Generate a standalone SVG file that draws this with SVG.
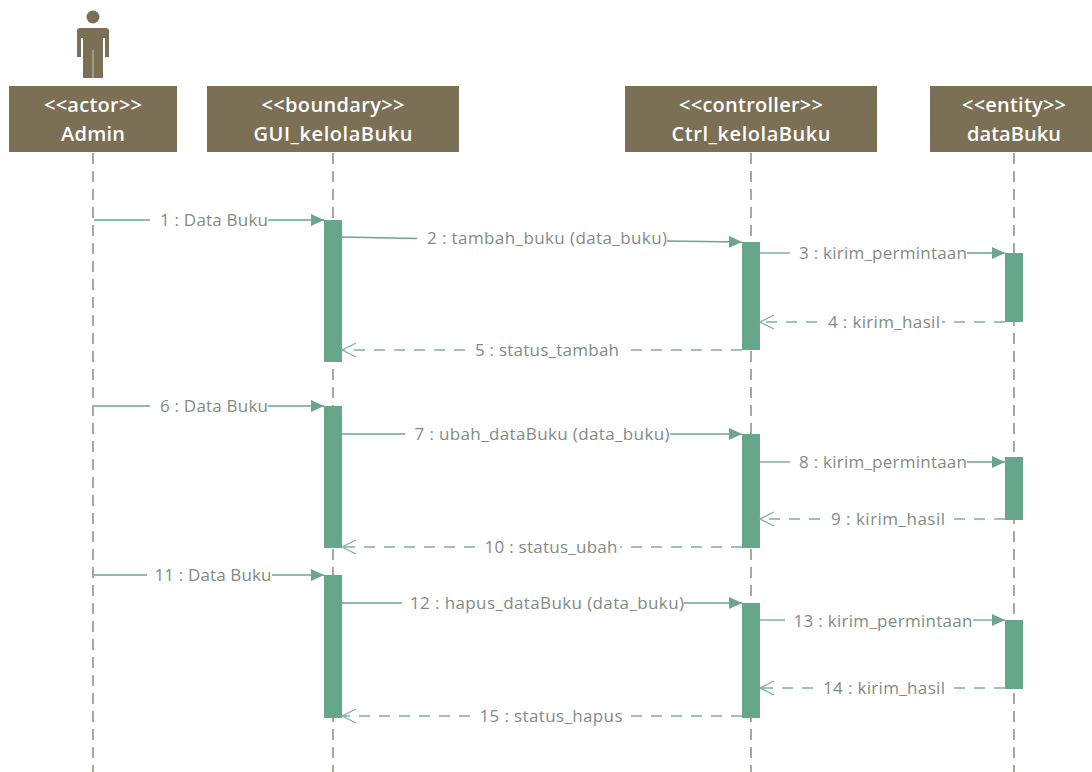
<svg xmlns="http://www.w3.org/2000/svg" width="1092" height="772" viewBox="0 0 1092 772">
<defs>
<marker id="fill" markerUnits="userSpaceOnUse" markerWidth="14" markerHeight="12" refX="13" refY="6" orient="auto"><path d="M0 0L13 6L0 12Z" fill="#6aa58c"/></marker>
<marker id="open" markerUnits="userSpaceOnUse" markerWidth="18" markerHeight="16" refX="15" refY="8" orient="auto"><path d="M1 1L15 8L1 15" fill="none" stroke="#7fb09b" stroke-width="1.2"/></marker>
</defs>
<style>
text{font-family:"Open Sans","DejaVu Sans",sans-serif}
.box{fill:#7b6f55}
.hd{fill:#fff;font-size:20px;text-anchor:middle;font-weight:600}
.life{stroke:#aaa6a0;stroke-width:2;stroke-dasharray:11 7;fill:none}
.act{fill:#66a78c}
.s{stroke:#6aa58c;stroke-width:1.3;fill:none}
.a{marker-end:url(#fill)}
.r{stroke:#7fb09b;stroke-width:1.6;stroke-dasharray:11 9;fill:none}
.o{marker-end:url(#open)}
.l{fill:#7f8c86;font-size:17px;text-anchor:middle}
</style>
<rect width="1092" height="772" fill="#fff"/>
<g id="lifelines">
<path class="life" d="M93 153V772"/><path class="life" d="M333 153V772"/><path class="life" d="M751 153V772"/><path class="life" d="M1014 153V772"/>
</g>
<g id="n-admin">
<circle cx="93" cy="17" r="6.5" fill="#7b6f55"/>
<path d="M80 28H106Q109 28 109 31V57H105V38H103V78H83V38H81V57H77V31Q77 28 80 28Z" fill="#7b6f55"/>
<path d="M93 50V78" stroke="#c9c4b8" stroke-width="1" fill="none"/>
<rect class="box" x="9" y="86" width="168" height="66"/>
<text class="hd" x="93" y="112" textLength="98">&lt;&lt;actor&gt;&gt;</text><text class="hd" x="93" y="141" textLength="64">Admin</text>
</g>
<g id="n-gui"><rect class="box" x="207" y="86" width="252" height="66"/>
<text class="hd" x="333" y="112" textLength="143">&lt;&lt;boundary&gt;&gt;</text><text class="hd" x="333" y="141" textLength="159">GUI_kelolaBuku</text></g>
<g id="n-ctrl"><rect class="box" x="625" y="86" width="252" height="66"/>
<text class="hd" x="751" y="112" textLength="144">&lt;&lt;controller&gt;&gt;</text><text class="hd" x="751" y="141" textLength="159">Ctrl_kelolaBuku</text></g>
<g id="n-data"><rect class="box" x="930" y="86" width="168" height="66"/>
<text class="hd" x="1014" y="112" textLength="104">&lt;&lt;entity&gt;&gt;</text><text class="hd" x="1014" y="141" textLength="94">dataBuku</text></g>
<g id="activations">
<rect class="act" x="324" y="220" width="18" height="142"/><rect class="act" x="324" y="406" width="18" height="142"/><rect class="act" x="324" y="575" width="18" height="143"/>
<rect class="act" x="742" y="242" width="18" height="108"/><rect class="act" x="742" y="434" width="18" height="114"/><rect class="act" x="742" y="603" width="18" height="115"/>
<rect class="act" x="1005" y="253" width="18" height="69"/><rect class="act" x="1005" y="457" width="18" height="63"/><rect class="act" x="1005" y="620" width="18" height="69"/>
</g>
<g id="connectors">
<path class="s" d="M94 220H150"/><path class="s a" d="M268 220H324"/>
<path class="s" d="M342 237L417 238.5"/><path class="s a" d="M667 241L742 242"/>
<path class="s" d="M760 253H790"/><path class="s a" d="M967 253H1005"/>
<path class="r" d="M1005 322H942"/><path class="r o" d="M817 322H760"/>
<path class="r" d="M742 350H622"/><path class="r o" d="M465 350H342"/>
<path class="s" d="M94 406H150"/><path class="s a" d="M268 406H324"/>
<path class="s" d="M342 434H405"/><path class="s a" d="M670 434H742"/>
<path class="s" d="M760 462H790"/><path class="s a" d="M967 462H1005"/>
<path class="r" d="M1005 519H947"/><path class="r o" d="M820 519H760"/>
<path class="r" d="M742 547H620"/><path class="r o" d="M475 547H342"/>
<path class="s" d="M94 575H147"/><path class="s a" d="M272 575H324"/>
<path class="s" d="M342 603H402"/><path class="s a" d="M684 603H742"/>
<path class="s" d="M760 620H785"/><path class="s a" d="M973 620H1005"/>
<path class="r" d="M1005 688H947"/><path class="r o" d="M813 688H760"/>
<path class="r" d="M742 716H625"/><path class="r o" d="M470 716H342"/>
</g>
<g id="labels">
<text class="l" x="214" y="226" textLength="108">1 : Data Buku</text>
<text class="l" x="547" y="244" textLength="240">2 : tambah_buku (data_buku)</text>
<text class="l" x="883" y="259" textLength="168">3 : kirim_permintaan</text>
<text class="l" x="884" y="328" textLength="112">4 : kirim_hasil</text>
<text class="l" x="547" y="356" textLength="144">5 : status_tambah</text>
<text class="l" x="214" y="412" textLength="108">6 : Data Buku</text>
<text class="l" x="542" y="440" textLength="255">7 : ubah_dataBuku (data_buku)</text>
<text class="l" x="883" y="468" textLength="168">8 : kirim_permintaan</text>
<text class="l" x="888" y="525" textLength="114">9 : kirim_hasil</text>
<text class="l" x="551" y="553" textLength="133">10 : status_ubah</text>
<text class="l" x="213" y="581" textLength="117">11 : Data Buku</text>
<text class="l" x="547" y="609" textLength="274">12 : hapus_dataBuku (data_buku)</text>
<text class="l" x="883" y="627" textLength="179">13 : kirim_permintaan</text>
<text class="l" x="884" y="694" textLength="122">14 : kirim_hasil</text>
<text class="l" x="551" y="722" textLength="143">15 : status_hapus</text>
</g>
</svg>
